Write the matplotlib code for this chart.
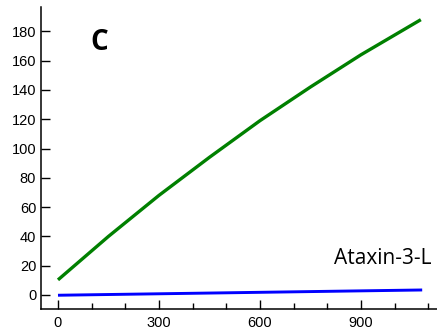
import numpy as np
import matplotlib.pyplot as plt
from matplotlib.ticker import MultipleLocator

x_long = [0, 150, 300, 450, 600, 750, 900, 1078]
y_long = [10.3, 40, 68, 94, 119, 142, 164, 188]
x_short = [0, 300, 600, 900, 1082]
y_short = [-0.2, 0.8, 1.8, 2.8, 3.4]
x_ticks = [0, 300, 600, 900]
y_ticks = [0, 20, 40, 60, 80, 100, 120, 140, 160, 180]

plt.rcParams['font.family'] = ['Liberation Sans', 'DejaVu Sans']

fig = plt.figure(figsize=(4.37, 3.30), dpi=100)
ax = fig.add_axes([0.0938, 0.0636, 0.9062, 0.915])

ax.plot(x_long, y_long, color='#008000', lw=2.4, solid_capstyle='butt')
ax.plot(x_short, y_short, color='#0000ff', lw=2.1, solid_capstyle='butt')

ax.set_xlim(-50.5, 1126)
ax.set_ylim(-9.6, 196.6)
ax.set_xticks(x_ticks)
ax.set_yticks(y_ticks)
ax.xaxis.set_minor_locator(MultipleLocator(100))

for s in ['top', 'right']:
    ax.spines[s].set_visible(False)
for s in ['left', 'bottom']:
    ax.spines[s].set_linewidth(1.1)

ax.tick_params(axis='both', which='major', direction='in', length=6.5, width=1.0,
               labelsize=10.5, colors='black')
ax.tick_params(axis='x', which='major', pad=5)
ax.tick_params(axis='y', which='major', pad=3.5)
ax.tick_params(axis='x', which='minor', direction='in', length=4.5, width=1.0)

fig.text(99 / 437, 1 - 43 / 330, 'C', fontsize=20, fontweight='bold',
         family='Open Sans', ha='center', va='center')
fig.text(432 / 437, 1 - 258 / 330, 'Ataxin-3-L', fontsize=15, family='Open Sans',
         ha='right', va='center')

fig.savefig('out.png', dpi=100)
